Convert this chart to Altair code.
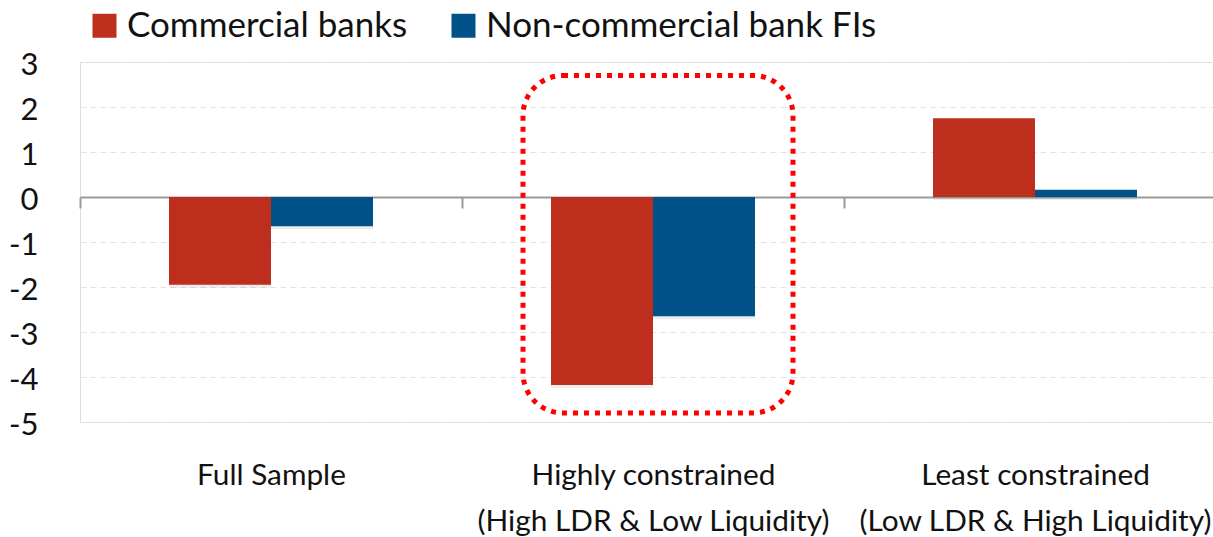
import altair as alt
import pandas as pd

categories = [
    "Full Sample",
    "Highly constrained\n(High LDR & Low Liquidity)",
    "Least constrained\n(Low LDR & High Liquidity)",
]
series = ["Commercial banks", "Non-commercial bank FIs"]
commercial = [-1.95, -4.18, 1.75]
noncommercial = [-0.65, -2.65, 0.16]
colors = ["#BE2E1D", "#02528A"]
y_ticks = [3, 2, 1, 0, -1, -2, -3, -4, -5]
highlight_cat = [categories[1]]
highlight_top = [2.7]
highlight_bottom = [-4.8]

rows = []
for c, a, b in zip(categories, commercial, noncommercial):
    rows.append({"cat": c, "series": series[0], "value": a})
    rows.append({"cat": c, "series": series[1], "value": b})
df = pd.DataFrame(rows)
df_h = pd.DataFrame({"cat": highlight_cat, "top": highlight_top, "bottom": highlight_bottom})

FONT = "Lato"

x_scale = alt.Scale(domain=categories, range=[0, 1146], paddingInner=0, paddingOuter=0)
xoff_scale = alt.Scale(domain=series, paddingInner=0, paddingOuter=0.8725)
y_scale = alt.Scale(domain=[-5, 3], nice=False, zero=False)

x_axis = alt.Axis(
    orient="bottom", offset=-225, title=None, labelAngle=0,
    domainColor="#9a9a9a", domainWidth=2, tickColor="#9a9a9a", tickWidth=2, tickSize=11,
    tickBand="extent", labelFontSize=29.8, labelFont=FONT, labelColor="#111111",
    labelPadding=252, labelBaseline="top", labelLineHeight=46, labelLimit=0,
    labelExpr="split(datum.label, '\\n')",
)
y_axis = alt.Axis(
    title=None, values=y_ticks, domain=False, ticks=False, grid=True,
    gridColor="#e2e2e2", gridDash=[6, 4], gridWidth=1,
    labelFontSize=31, labelFont=FONT, labelColor="#111111", labelPadding=42,
    labelOffset=3, labelExpr="'' + datum.value",
)

shadow = alt.Chart(df).mark_bar(color="#000000", opacity=0.07, yOffset=3).encode(
    x=alt.X("cat:N", scale=x_scale, sort=categories, axis=x_axis),
    xOffset=alt.XOffset("series:N", sort=series, scale=xoff_scale),
    y=alt.Y("value:Q", scale=y_scale, axis=y_axis),
)

bars = alt.Chart(df).mark_bar().encode(
    x=alt.X("cat:N", scale=x_scale, sort=categories, axis=x_axis),
    xOffset=alt.XOffset("series:N", sort=series, scale=xoff_scale),
    y=alt.Y("value:Q", scale=y_scale, axis=y_axis),
    color=alt.Color(
        "series:N", scale=alt.Scale(domain=series, range=colors),
        legend=alt.Legend(
            title=None, orient="none", legendX=7, legendY=-54, direction="horizontal",
            symbolType="square", symbolSize=576, symbolStrokeWidth=0,
            labelFontSize=35, labelFont=FONT, labelColor="#111111", labelOffset=5,
            columnPadding=38, padding=0, labelLimit=0,
        ),
    ),
)

highlight = alt.Chart(df_h).mark_bar(
    width=270, cornerRadius=40, fillOpacity=0, stroke="#FF0000", strokeWidth=5,
    strokeDash=[5, 6], xOffset=5,
).encode(
    x=alt.X("cat:N", scale=x_scale, sort=categories, axis=x_axis),
    y=alt.Y("top:Q", scale=y_scale, axis=y_axis),
    y2="bottom:Q",
)

chart = alt.layer(shadow, bars, highlight).properties(
    width=1133, height=360,
    autosize=alt.AutoSizeParams(type="none"),
    padding={"left": 80, "top": 62, "right": 0, "bottom": 115},
).configure_view(stroke=None).configure(background="white")

chart.save("out.html", embed_options={"renderer": "svg", "actions": False})
